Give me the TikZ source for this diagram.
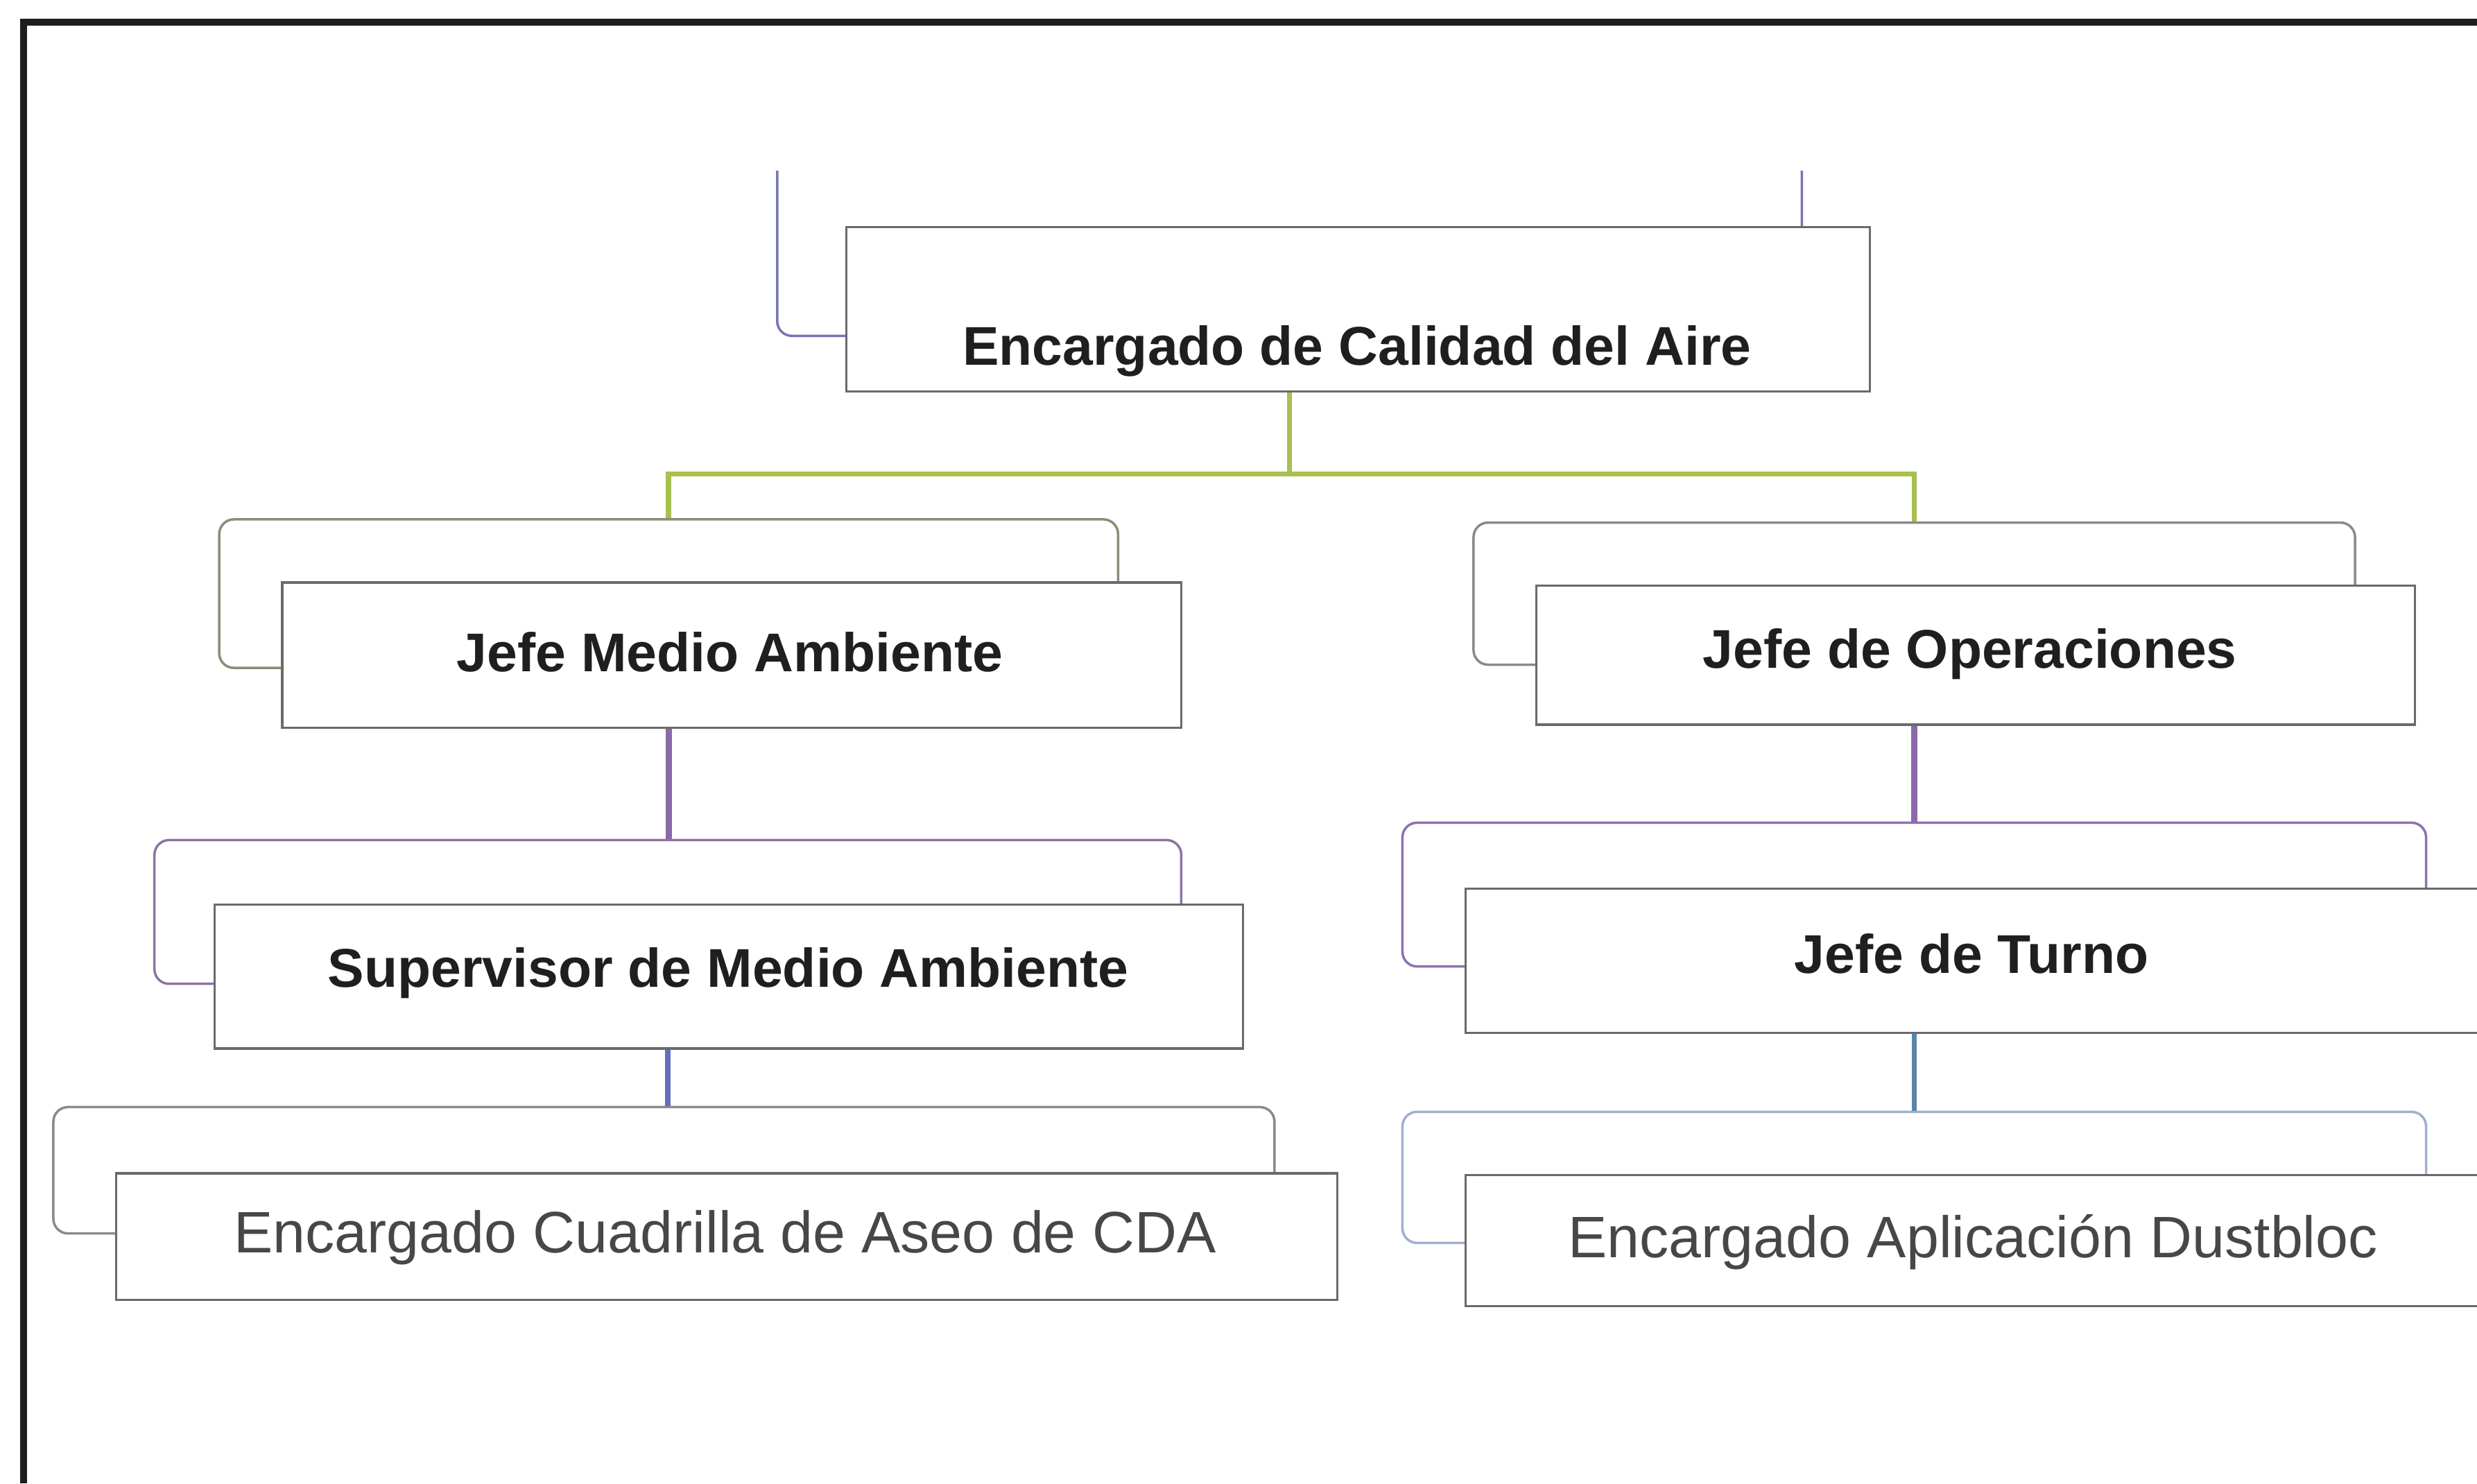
\documentclass[tikz,border=0pt]{standalone}
\usepackage{fontspec}
\setmainfont{Liberation Sans}
\newlength\unitpx
\setlength\unitpx{0.022781cm}
\definecolor{framec}{HTML}{1E1E1E}
\definecolor{cgreen}{HTML}{A8C050}
\definecolor{cpurple}{HTML}{8A6AA8}
\definecolor{cblue}{HTML}{6070B8}
\definecolor{cteal}{HTML}{5A86A8}
\definecolor{fedge}{HTML}{6A6A6A}
\definecolor{bblue}{HTML}{7676B8}
\definecolor{bolive}{HTML}{8C8C78}
\definecolor{bgray}{HTML}{8A8A8A}
\definecolor{bpurple}{HTML}{9070B0}
\definecolor{blight}{HTML}{A0B0D0}
\begin{document}
\begin{tikzpicture}[x=\unitpx, y=-\unitpx,
  sz/.style 2 args={minimum width=#1*\unitpx, minimum height=#2*\unitpx},
  frontbox/.style={draw=fedge, line width=0.9pt, fill=white, inner sep=0pt, anchor=north west},
  backbox/.style={draw=#1, line width=1pt, inner sep=0pt, anchor=north west, rounded corners=6pt},
  btxt/.style={font=\bfseries\fontsize{22.4}{26}\selectfont, text=black!88, anchor=base, inner sep=0pt},
  rtxt/.style={font=\fontsize{24}{28}\selectfont, text=black!72, anchor=base, inner sep=0pt},
  conn/.style={line width=2.2pt}
]
\useasboundingbox (0,0) rectangle (1568,939);
\fill[white] (0,0) rectangle (1568,939);
% outer frame
\draw[line width=3pt, framec] (1568,14) -- (15,14) -- (15,939);

% back boxes
\node[inner sep=0pt, anchor=north west, sz={648}{104}] (rootb) at (492,108) {};
\draw[bblue, line width=1pt, rounded corners=6pt] (rootb.north west) -- (rootb.south west) -- (rootb.south east) -- (rootb.north east);
\node[backbox=bolive, sz={569}{94}] (jmab) at (138,328) {};
\node[backbox=bgray, sz={558}{90}] (job) at (932,330) {};
\node[backbox=bpurple!70!gray, sz={650}{91}] (supb) at (97,531) {};
\node[backbox=bpurple, sz={648}{91}] (turb) at (887,520) {};
\node[backbox=bgray, sz={773}{80}] (cuab) at (33,700) {};
\node[backbox=blight, sz={648}{83}] (dusb) at (887,703) {};

% connectors
\coordinate (hy) at (0,300);
\draw[conn, cgreen] (rootb.south) -- (rootb.south |- hy) -| (jmab.north);
\draw[conn, cgreen] (rootb.south |- hy) -| (job.north);
\draw[conn, cpurple, line width=2.6pt] (jmab.south) -- (jmab.south |- supb.north);
\draw[conn, cpurple, line width=2.6pt] (job.south) -- (job.south |- turb.north);
\draw[conn, cblue] (supb.south) -- (supb.south |- cuab.north);
\draw[conn, cteal] (turb.south) -- (turb.south |- dusb.north);

% front boxes
\node[frontbox, sz={648}{104}] (root) at (535,143) {};
\node[frontbox, sz={569}{92}] (jma) at (178,368) {};
\node[frontbox, sz={556}{88}] (jo) at (972,370) {};
\node[frontbox, sz={651}{91}] (sup) at (135,572) {};
\node[frontbox, sz={648}{91}] (tur) at (927,562) {};
\node[frontbox, sz={773}{80}] (cua) at (73,742) {};
\node[frontbox, sz={648}{83}] (dus) at (927,743) {};

% texts
\node[btxt] (troot) at (859,231) {Encargado de Calidad del Aire};
\node[btxt] (tjma) at (462,425) {Jefe Medio Ambiente};
\node[btxt] (tjo) at (1247,423) {Jefe de Operaciones};
\node[btxt] (tsup) at (461,625) {Supervisor de Medio Ambiente};
\node[btxt] (ttur) at (1248,616) {Jefe de Turno};
\node[rtxt] (tcua) at (459,793) {Encargado Cuadrilla de Aseo de CDA};
\node[rtxt] (tdus) at (1249,796) {Encargado Aplicación Dustbloc};
\end{tikzpicture}
\end{document}
